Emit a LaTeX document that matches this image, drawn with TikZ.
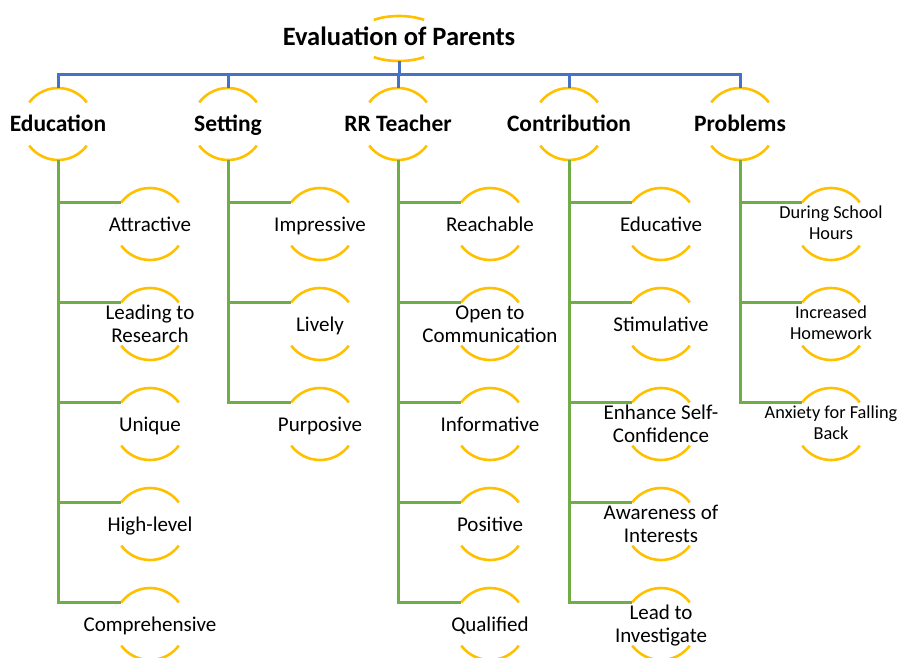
\documentclass[tikz,border=0pt]{standalone}
\usepackage{fontspec}
\setmainfont{Carlito}
\definecolor{yelc}{HTML}{FFC000}
\definecolor{bluc}{HTML}{4472C4}
\definecolor{grnc}{HTML}{70AD47}
\newcommand\halfcirc[1]{%
  \draw[yarc] (#1.center) ++(143:36pt) arc[start angle=143,end angle=37,radius=36pt];
  \draw[yarc] (#1.center) ++(217:36pt) arc[start angle=217,end angle=323,radius=36pt];
  \path (#1.center) ++(143:36pt) coordinate (#1-tl);
  \path (#1.center) ++(90:36pt) coordinate (#1-t);
  \path (#1.center) ++(270:36pt) coordinate (#1-b);
}
\begin{document}
\begin{tikzpicture}[x=1pt,y=1pt,
  yarc/.style={draw=yelc,line width=2.6pt},
  bline/.style={draw=bluc,line width=3pt},
  gline/.style={draw=grnc,line width=3pt},
  ttl/.style={font=\bfseries\fontsize{26.5}{29}\selectfont,align=center,inner sep=0pt,text height=20pt,text depth=5.6pt},
  lvl/.style={font=\bfseries\fontsize{23.5}{26}\selectfont,align=center,inner sep=0pt,text height=20pt,text depth=6pt},
  chd/.style={font=\fontsize{21}{23}\selectfont,align=center,inner sep=0pt,text height=17pt,text depth=3pt},
  chdd/.style={font=\fontsize{21}{23}\selectfont,align=center,inner sep=0pt,text height=40pt,text depth=3pt},
  prbb/.style={font=\fontsize{18.3}{21}\selectfont,align=center,inner sep=0pt,text height=36pt,text depth=4.4pt}]
\useasboundingbox (0,0) rectangle (901,-657);
\clip (0,0) rectangle (901,-657);

% title
\node[ttl] (top) at (399,-38.5) {Evaluation of Parents};
\draw[yarc] (top.center) ++(124:45pt and 22.5pt) arc[start angle=124,end angle=56,x radius=45pt,y radius=22.5pt];
\draw[yarc] (top.center) ++(236:45pt and 22.5pt) arc[start angle=236,end angle=304,x radius=45pt,y radius=22.5pt];
\path (top.center) ++(270:22.5pt) coordinate (top-b);
\coordinate (bar) at (399,-74);

% level nodes
\node[lvl] (edu) at (58,-124) {Education};
\node[lvl] (set) at (228,-124) {Setting};
\node[lvl] (rrt) at (398,-124) {RR Teacher};
\node[lvl] (con) at (569,-124) {Contribution};
\node[lvl] (prob) at (740,-124) {Problems};
\foreach \n in {edu,set,rrt,con,prob}{\halfcirc{\n}}

% children
\node[chd] (e1) at (150,-224) {Attractive};
\node[chdd] (e2) at (150,-324) {Leading to\\Research};
\node[chd] (e3) at (150,-424) {Unique};
\node[chd] (e4) at (150,-524) {High-level};
\node[chd] (e5) at (150,-624) {Comprehensive};

\node[chd] (s1) at (320,-224) {Impressive};
\node[chd] (s2) at (320,-324) {Lively};
\node[chd] (s3) at (320,-424) {Purposive};

\node[chd] (r1) at (490,-224) {Reachable};
\node[chdd] (r2) at (490,-324) {Open to\\Communication};
\node[chd] (r3) at (490,-424) {Informative};
\node[chd] (r4) at (490,-524) {Positive};
\node[chd] (r5) at (490,-624) {Qualified};

\node[chd] (c1) at (661,-224) {Educative};
\node[chd] (c2) at (661,-324) {Stimulative};
\node[chdd] (c3) at (661,-424) {Enhance Self-\\Confidence};
\node[chdd] (c4) at (661,-524) {Awareness of\\Interests};
\node[chdd] (c5) at (661,-624) {Lead to\\Investigate};

\node[prbb] (p1) at (831,-224) {During School\\Hours};
\node[prbb] (p2) at (831,-324) {Increased\\Homework};
\node[prbb] (p3) at (831,-424) {Anxiety for Falling\\Back};

\foreach \n in {e1,e2,e3,e4,e5,s1,s2,s3,r1,r2,r3,r4,r5,c1,c2,c3,c4,c5,p1,p2,p3}{\halfcirc{\n}}

% blue connectors
\draw[bline] (top-b) -- (bar);
\foreach \n in {edu,set,rrt,con,prob}{\draw[bline] (bar) -| (\n-t);}

% green connectors
\foreach \c in {e1,e2,e3,e4,e5}{\draw[gline] (edu-b) |- (\c-tl);}
\foreach \c in {s1,s2,s3}{\draw[gline] (set-b) |- (\c-tl);}
\foreach \c in {r1,r2,r3,r4,r5}{\draw[gline] (rrt-b) |- (\c-tl);}
\foreach \c in {c1,c2,c3,c4,c5}{\draw[gline] (con-b) |- (\c-tl);}
\foreach \c in {p1,p2,p3}{\draw[gline] (prob-b) |- (\c-tl);}
\end{tikzpicture}
\end{document}
